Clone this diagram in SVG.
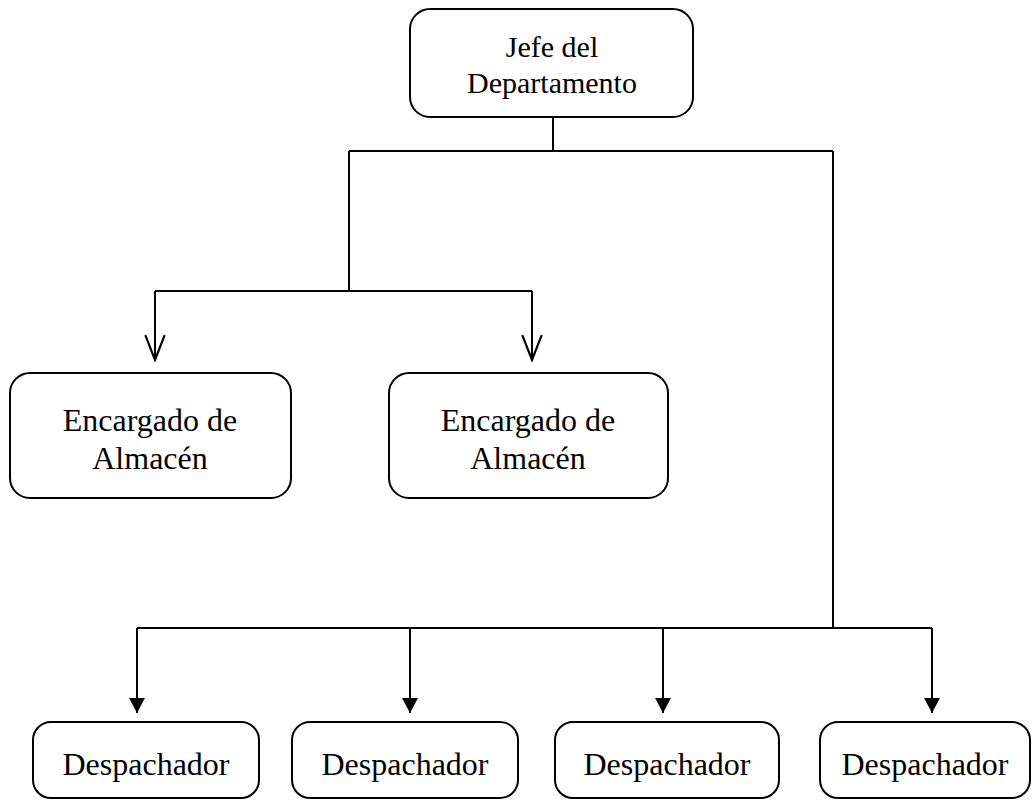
<svg xmlns="http://www.w3.org/2000/svg" width="1036" height="800" viewBox="0 0 1036 800">
<style>
.box{fill:#fff;stroke:#000;stroke-width:2}
.t{font-family:"Liberation Serif","Times New Roman",serif;font-size:32px;fill:#000;text-anchor:middle}
.ln{fill:none;stroke:#000;stroke-width:2}
</style>
<defs>
<marker id="open" markerUnits="userSpaceOnUse" markerWidth="28" markerHeight="24" refX="24" refY="10" orient="auto" viewBox="0 0 26 20">
<path d="M1,1 L24,10 L1,19" fill="none" stroke="#000" stroke-width="2"/>
</marker>
<marker id="solid" markerUnits="userSpaceOnUse" markerWidth="18" markerHeight="16" refX="8" refY="15" viewBox="0 0 16 16">
<path d="M0,0 L16,0 L8,15 Z" fill="#000"/>
</marker>
</defs>
<rect width="1036" height="800" fill="#fff"/>
<g id="connectors">
<path class="ln" d="M553,117 V151"/>
<path class="ln" d="M349,151 H833"/>
<path class="ln" d="M349,151 V291"/>
<path class="ln" d="M155,291 H532"/>
<path class="ln" d="M155,291 V360" marker-end="url(#open)"/>
<path class="ln" d="M532,291 V360" marker-end="url(#open)"/>
<path class="ln" d="M833,151 V628"/>
<path class="ln" d="M137,628 H932"/>
<path class="ln" d="M137,628 V713" marker-end="url(#solid)"/>
<path class="ln" d="M410,628 V713" marker-end="url(#solid)"/>
<path class="ln" d="M663,628 V713" marker-end="url(#solid)"/>
<path class="ln" d="M932,628 V713" marker-end="url(#solid)"/>
</g>
<g id="jefe">
<rect class="box" x="410" y="9" width="283" height="108" rx="20"/>
<text class="t" x="552" y="57" style="font-size:30px">Jefe del</text>
<text class="t" x="552" y="93" style="font-size:30px">Departamento</text>
</g>
<g id="encargado1">
<rect class="box" x="10" y="373" width="281" height="125" rx="20"/>
<text class="t" x="150" y="431">Encargado de</text>
<text class="t" x="150" y="469">Almacén</text>
</g>
<g id="encargado2">
<rect class="box" x="389" y="373" width="279" height="125" rx="20"/>
<text class="t" x="528" y="431">Encargado de</text>
<text class="t" x="528" y="469">Almacén</text>
</g>
<g id="despachador1">
<rect class="box" x="33" y="722" width="226" height="76" rx="18"/>
<text class="t" x="146" y="775">Despachador</text>
</g>
<g id="despachador2">
<rect class="box" x="292" y="722" width="226" height="76" rx="18"/>
<text class="t" x="405" y="775">Despachador</text>
</g>
<g id="despachador3">
<rect class="box" x="555" y="722" width="224" height="76" rx="18"/>
<text class="t" x="667" y="775">Despachador</text>
</g>
<g id="despachador4">
<rect class="box" x="820" y="722" width="210" height="76" rx="18"/>
<text class="t" x="925" y="775">Despachador</text>
</g>
</svg>
